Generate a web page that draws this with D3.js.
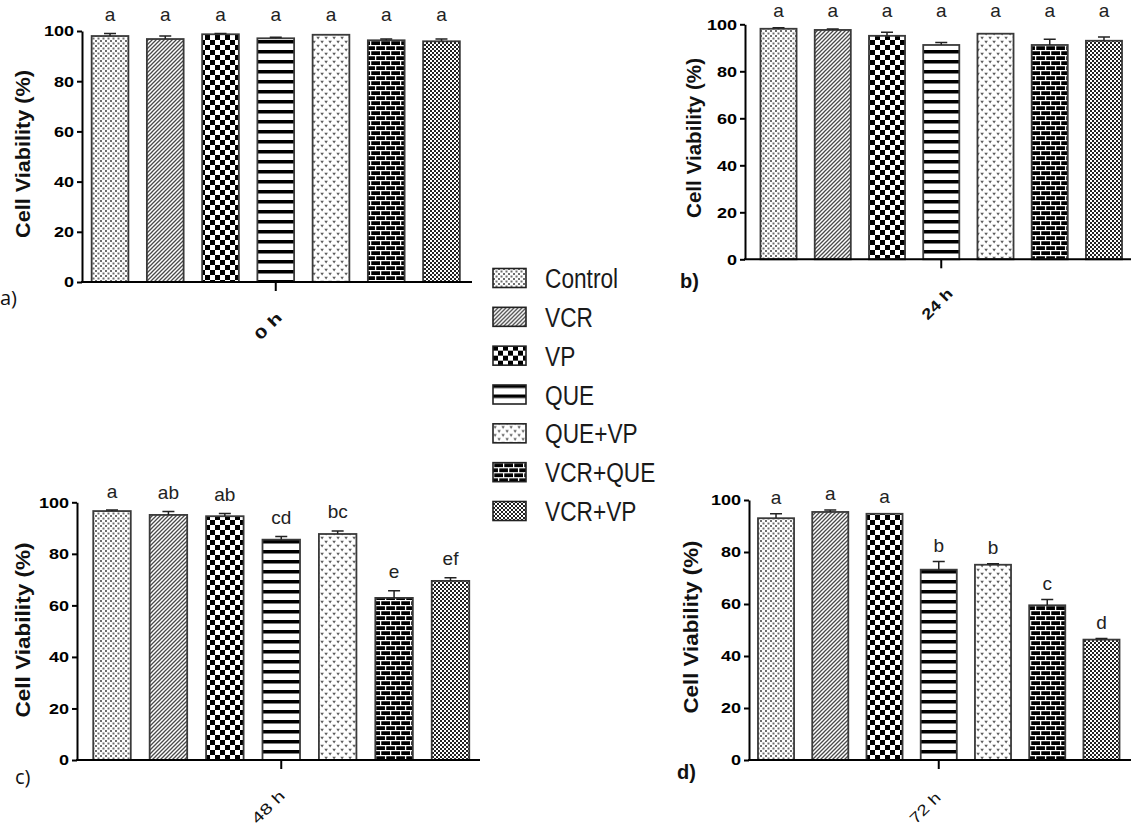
<!DOCTYPE html>
<html lang="en">
<head>
<meta charset="UTF-8">
<title>Cell viability</title>
<style>
  body{margin:0;background:#fff;}
  svg{display:block;font-family:"Liberation Sans",Arial,sans-serif;}
  .bar{stroke:#3a3a3a;stroke-width:1.8;}
  .err{stroke:#222;stroke-width:1.5;fill:none;}
  .axis path,.axis line{stroke:#000;stroke-width:2;}
  .axis text{font-weight:bold;font-size:15px;fill:#000;font-family:"Liberation Sans",Arial,sans-serif;}
  .ytitle{font-weight:bold;font-size:18px;fill:#111;}
  .sig{font-size:19px;fill:#222;}
  .tag{font-size:20px;fill:#111;}
  .time{font-size:15px;fill:#111;}
  .legend text{font-size:27px;fill:#1a1a1a;}
</style>
</head>
<body>
<script src="https://cdn.jsdelivr.net/npm/d3@7"></script>
<script>
  const groups = ["Control", "VCR", "VP", "QUE", "QUE+VP", "VCR+QUE", "VCR+VP"];
  const yTicks = [0, 20, 40, 60, 80, 100];
  const times = ["0 h", "24 h", "48 h", "72 h"];

  // mean viability (%) and upper SD bars
  const viab0 = [98.0, 96.8, 98.7, 97.1, 98.5, 96.3, 95.9];
  const err0 = [1.0, 1.2, 0.3, 0.4, 0.2, 0.5, 0.9];
  const let0 = ["a", "a", "a", "a", "a", "a", "a"];

  const viab24 = [98.1, 97.6, 95.1, 91.2, 96.0, 91.2, 93.0];
  const err24 = [0.4, 0.4, 1.5, 1.1, 0.2, 2.4, 1.6];
  const let24 = ["a", "a", "a", "a", "a", "a", "a"];

  const viab48 = [96.6, 95.1, 94.6, 85.5, 87.7, 62.9, 69.5];
  const err48 = [0.4, 1.3, 1.1, 1.2, 1.2, 2.8, 1.2];
  const let48 = ["a", "ab", "ab", "cd", "bc", "e", "ef"];

  const viab72 = [93.0, 95.4, 94.7, 73.2, 75.1, 59.5, 46.3];
  const err72 = [1.7, 0.8, 0.2, 3.1, 0.4, 2.2, 0.4];
  const let72 = ["a", "a", "a", "b", "b", "c", "d"];

  const W = 1131, H = 829;
  const svg = d3.select("body").append("svg").attr("width", W).attr("height", H);
  const defs = svg.append("defs");

  // hatch fills, one per treatment
  function pat(id, w, h, draw) {
    const p = defs.append("pattern").attr("id", id)
      .attr("patternUnits", "userSpaceOnUse").attr("width", w).attr("height", h);
    p.append("rect").attr("width", w).attr("height", h).attr("fill", "#fff");
    draw(p);
  }
  pat("p0", 5, 5, p => {
    p.append("rect").attr("x", 0).attr("y", 0).attr("width", 2).attr("height", 2).attr("fill", "#6e6e6e");
    p.append("rect").attr("x", 2.5).attr("y", 2.5).attr("width", 2).attr("height", 2).attr("fill", "#6e6e6e");
  });
  pat("p1", 4, 4, p => {
    p.append("path").attr("d", "M-1,1 l2,-2 M0,4 l4,-4 M3,5 l2,-2")
      .attr("stroke", "#4a4a4a").attr("stroke-width", 1.3);
  });
  pat("p2", 10, 10, p => {
    p.append("rect").attr("x", 0).attr("y", 0).attr("width", 5).attr("height", 5).attr("fill", "#000");
    p.append("rect").attr("x", 5).attr("y", 5).attr("width", 5).attr("height", 5).attr("fill", "#000");
  });
  pat("p3", 10, 10, p => {
    p.append("rect").attr("x", 0).attr("y", 0).attr("width", 10).attr("height", 3.5).attr("fill", "#000");
  });
  pat("p4", 8, 8, p => {
    p.append("path").attr("d", "M0.3,0.8 h3.6 l-1.8,2.6 z M4.3,4.8 h3.6 l-1.8,2.6 z").attr("fill", "#5e5e5e");
  });
  pat("p5", 10, 10, p => {
    p.append("rect").attr("width", 10).attr("height", 10).attr("fill", "#000");
    p.append("path").attr("d", "M0,0.6 h10 M0,5.6 h10 M0.6,0 v5 M5.6,5 v5")
      .attr("stroke", "#fff").attr("stroke-width", 1.3);
  });
  pat("p6", 4, 4, p => {
    p.append("rect").attr("x", 0).attr("y", 0).attr("width", 2).attr("height", 2).attr("fill", "#222");
    p.append("rect").attr("x", 2).attr("y", 2).attr("width", 2).attr("height", 2).attr("fill", "#222");
  });
  const fillOf = i => `url(#p${i})`;

  // squeeze/stretch text along its run
  function fit(sel, k) {
    sel.each(function () {
      const w = this.getComputedTextLength();
      this.setAttribute("textLength", w * k);
      this.setAttribute("lengthAdjust", "spacingAndGlyphs");
    });
  }

  const panels = [
    { vals: viab0, errs: err0, lets: let0, time: times[0],
      band: [82.4, 469.1], axisX: 82, xEnd: 472, yr: [282, 31],
      title: [23, 154, 168], tag: "a)", tagPos: [0, 305], tagBold: false,
      timePos: [268, 326, 32], timeBold: true, row: true, gap: 13 },
    { vals: viab24, errs: err24, lets: let24, time: times[1],
      band: [751.4, 1131.1], axisX: 745, xEnd: 1131, yr: [259.3, 24.3],
      title: [694, 138, 160], tag: "b)", tagPos: [680, 288], tagBold: true,
      timePos: [937, 304, 37], timeBold: true, row: true, gap: 11 },
    { vals: viab48, errs: err48, lets: let48, time: times[2],
      band: [83.8, 478.7], axisX: 77, xEnd: 480, yr: [760, 502.3],
      title: [23, 630, 175], tag: "c)", tagPos: [15, 784], tagBold: false,
      timePos: [268, 807, 40], timeBold: false, row: false, gap: 12.5 },
    { vals: viab72, errs: err72, lets: let72, time: times[3],
      band: [748.9, 1128.6], axisX: 749, xEnd: 1131, yr: [760, 500],
      title: [691, 627, 173], tag: "d)", tagPos: [677, 779], tagBold: true,
      timePos: [925, 808, 37], timeBold: false, row: false, gap: 10 }
  ];

  panels.forEach(p => {
    const g = svg.append("g");
    const x = d3.scaleBand().domain(groups).range(p.band).paddingInner(0.335).paddingOuter(0.1675);
    const y = d3.scaleLinear().domain([0, 100]).range(p.yr);
    const rows = groups.map((k, i) => ({ k, i, v: p.vals[i], e: p.errs[i], l: p.lets[i] }));

    // bars
    g.selectAll("rect.bar").data(rows).enter().append("rect")
      .attr("class", "bar")
      .attr("x", d => x(d.k)).attr("width", x.bandwidth())
      .attr("y", d => y(d.v)).attr("height", d => y(0) - y(d.v))
      .attr("fill", d => fillOf(d.i));

    // upper error bars
    const eb = g.selectAll("g.eb").data(rows.filter(d => d.e > 0.25)).enter().append("g");
    eb.append("path").attr("class", "err")
      .attr("d", d => {
        const cx = x(d.k) + x.bandwidth() / 2, t = y(d.v + d.e);
        return `M${cx},${y(d.v)}V${t}M${cx - 6},${t}H${cx + 6}`;
      });

    // significance letters
    const top = d3.max(rows, d => d.v + d.e);
    g.selectAll("text.sig").data(rows).enter().append("text")
      .attr("class", "sig").attr("text-anchor", "middle")
      .attr("x", d => x(d.k) + x.bandwidth() / 2)
      .attr("y", d => y(p.row ? top : d.v + d.e) - p.gap)
      .text(d => d.l);

    // y axis
    const ya = g.append("g").attr("class", "axis")
      .attr("transform", `translate(${p.axisX},0)`)
      .call(d3.axisLeft(y).tickValues(yTicks).tickSize(5).tickSizeOuter(0).tickPadding(3));
    fit(ya.selectAll("text"), 1.2);

    // x axis with single centre tick
    g.append("line").attr("x1", p.axisX - 1).attr("x2", p.xEnd)
      .attr("y1", y(0)).attr("y2", y(0)).attr("stroke", "#000").attr("stroke-width", 2);
    const mid = x(groups[3]) + x.bandwidth() / 2;
    g.append("line").attr("x1", mid).attr("x2", mid)
      .attr("y1", y(0)).attr("y2", y(0) + 9).attr("stroke", "#000").attr("stroke-width", 2);

    // y title
    g.append("text").attr("class", "ytitle").attr("text-anchor", "middle")
      .attr("transform", `translate(${p.title[0]},${p.title[1]}) rotate(-90) scale(1,1.12)`)
      .attr("dy", "0.35em")
      .attr("textLength", p.title[2]).attr("lengthAdjust", "spacingAndGlyphs")
      .text(p.time === times[3] ? "Cell Viability (%)" : "Cell Viability  (%)");

    // time label
    g.append("text").attr("class", "time").attr("text-anchor", "middle")
      .attr("font-weight", p.timeBold ? "bold" : "normal")
      .attr("transform", `translate(${p.timePos[0]},${p.timePos[1]}) rotate(-45)`)
      .attr("dy", "0.35em")
      .attr("textLength", p.timePos[2]).attr("lengthAdjust", "spacingAndGlyphs")
      .text(p.time);

    // panel tag
    g.append("text").attr("class", "tag")
      .attr("font-family", p.tagBold ? "'Liberation Sans', Arial, sans-serif" : "'Open Sans', sans-serif")
      .attr("font-weight", p.tagBold ? "bold" : "normal")
      .attr("x", p.tagPos[0]).attr("y", p.tagPos[1]).text(p.tag);
  });

  // legend
  const ly = d3.scalePoint().domain(groups).range([278, 511]);
  const lg = svg.append("g").attr("class", "legend");
  const li = lg.selectAll("g").data(groups).enter().append("g")
    .attr("transform", d => `translate(493,${ly(d)})`);
  li.append("rect").attr("x", 0).attr("y", -9.5).attr("width", 33).attr("height", 19)
    .attr("fill", (d, i) => fillOf(i)).attr("stroke", "#222").attr("stroke-width", 1.6);
  li.append("text").attr("x", 52).attr("y", 10).text(d => d);
  fit(li.selectAll("text"), 0.84);
</script>
</body>
</html>
